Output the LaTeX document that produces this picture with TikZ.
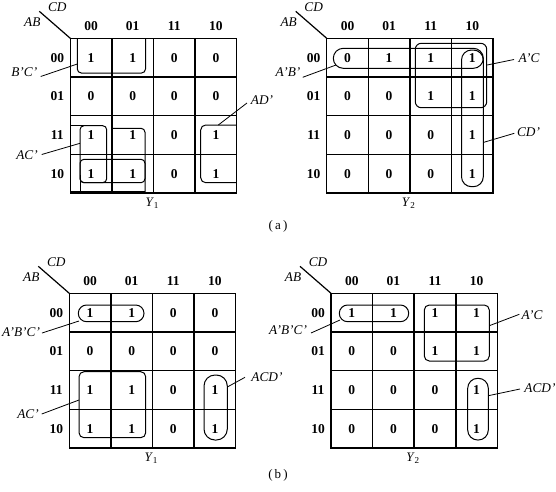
\documentclass[tikz,border=0pt]{standalone}
\usepackage{fontspec}
\setmainfont{Liberation Serif}
\tikzset{
  gridline/.style={line width=1.5pt},
  grp/.style={line width=1pt},
  lead/.style={line width=0.8pt},
  diagline/.style={line width=1.2pt},
  val/.style={font=\bfseries\fontsize{13.5}{14}\selectfont, inner sep=0pt},
  hdr/.style={font=\bfseries\fontsize{13.5}{14}\selectfont, inner sep=0pt},
  lab/.style={font=\itshape\fontsize{13.3}{14}\selectfont, inner sep=0pt},
  captext/.style={font=\fontsize{13}{13}\selectfont, inner sep=0pt}
}
\newcommand{\kmap}[3]{%
  \draw[gridline] (0,0) rectangle (166.4,154.8);
  \foreach \i in {1,2,3} {
    \draw[gridline] (\i*41.6,0) -- (\i*41.6,154.8);
    \draw[gridline] (0,\i*38.7) -- (166.4,\i*38.7);
  }
  \foreach \h [count=\k from 0] in {00,01,11,10} {
    \node[hdr] (#1c\k) at (\k*41.6+20.8,-12) {\h};
    \node[hdr] (#1r\k) at (-13,\k*38.7+19.35) {\h};
  }
  \foreach \v [count=\k from 0] in {#2} {
    \pgfmathtruncatemacro\rr{int(\k/4)}
    \pgfmathtruncatemacro\cc{mod(\k,4)}
    \node[val] (#1v\k) at (\cc*41.6+20.8, \rr*38.7+19.35) {\v};
  }
  \coordinate (#1o) at (0,0);
  \coordinate (#1d) at (-31,-27);
  \draw[diagline] (#1o) -- (#1d);
  \node[lab] (#1cd) at (-13,-31) {CD};
  \node[lab] (#1ab) at (-38,-16) {AB};
  \node[captext] (#1y) at (82,165) {\textit{Y}\textsubscript{#3}};
}
\begin{document}
\begin{tikzpicture}[x=1pt,y=-1pt]
\useasboundingbox (0,0) rectangle (556,491);
\fill[white] (0,0) rectangle (556,491);

% ---------- (a) Y1 ----------
\begin{scope}[shift={(70.3,38.3)}]
\kmap{aa}{1,1,0,0, 0,0,0,0, 1,1,0,1, 1,1,0,1}{1}
\end{scope}
\draw[grp,rounded corners=4] (77.3,38.3) -- (77.3,73) -- (145.5,73) -- (145.5,38.3);
\draw[grp,rounded corners=4] (80,125.7) rectangle (106.7,182.7);
\draw[grp] (70.3,125.7) -- (90,125.7);
\draw[grp] (80,175) -- (80,192.7);
\draw[grp,rounded corners=4] (111.7,128.3) -| (145,192.7);
\draw[grp,rounded corners=4] (80,159.3) rectangle (145,182.7);
\draw[grp] (70.3,191.7) -- (145,191.7);
\draw[grp,rounded corners=5] (236.7,125) -- (200.7,125) -- (200.7,182.7) -- (236.7,182.7);
\node[lab] (aBC) at (24.3,72) {B'C'};
\node[lab] (aAC) at (27,155) {AC'};
\node[lab] (aAD) at (262,100) {AD'};
\coordinate (aBCs) at (40.7,76.5);  \coordinate (aBCe) at (77.3,64);
\coordinate (aACs) at (41.7,154.5); \coordinate (aACe) at (80,143.3);
\coordinate (aADs) at (247,103);    \coordinate (aADe) at (218.3,125);
\draw[lead] (aBCs) -- (aBCe);
\draw[lead] (aACs) -- (aACe);
\draw[lead] (aADs) -- (aADe);

% ---------- (a) Y2 ----------
\begin{scope}[shift={(326.7,38.3)}]
\kmap{ab}{0,1,1,1, 0,0,1,1, 0,0,0,1, 0,0,0,1}{2}
\end{scope}
\draw[grp,rounded corners=10] (333.3,48.3) rectangle (483.3,68.3);
\draw[grp,rounded corners=6] (415.3,43.3) rectangle (486.7,107.7);
\draw[grp,rounded corners=10] (461.5,50) rectangle (483.3,186.7);
\node[lab] (bAB) at (288,72) {A'B'};
\node[lab] (bAC) at (529,58.3) {A'C};
\node[lab] (bCD) at (528.5,132.5) {CD'};
\coordinate (bABs) at (302.7,77.3); \coordinate (bABe) at (336,65);
\coordinate (bACs) at (514,59.5);   \coordinate (bACe) at (487.2,65);
\coordinate (bCDs) at (514.3,133.3);  \coordinate (bCDe) at (483.8,142.3);
\draw[lead] (bABs) -- (bABe);
\draw[lead] (bACs) -- (bACe);
\draw[lead] (bCDs) -- (bCDe);
\node[captext] (capa) at (278,226) {(\,a\,)};

% ---------- (b) Y1 ----------
\begin{scope}[shift={(69.3,293.3)}]
\kmap{ba}{1,1,0,0, 0,0,0,0, 1,1,0,1, 1,1,0,1}{1}
\end{scope}
\draw[grp,rounded corners=8.3] (78.3,305) rectangle (144,321.7);
\draw[grp,rounded corners=5] (79,371.7) rectangle (145.7,437.7);
\draw[grp,rounded corners=11] (204,375) rectangle (227.3,440);
\node[lab] (cABC) at (21,332) {A'B'C'};
\node[lab] (cAC) at (28,414.5) {AC'};
\node[lab] (cACD) at (267,377) {ACD'};
\coordinate (cABCs) at (42,333); \coordinate (cABCe) at (79,321);
\coordinate (cACs) at (41.7,414);  \coordinate (cACe) at (79,400);
\coordinate (cACDs) at (245,377.3);  \coordinate (cACDe) at (227.3,387);
\draw[lead] (cABCs) -- (cABCe);
\draw[lead] (cACs) -- (cACe);
\draw[lead] (cACDs) -- (cACDe);

% ---------- (b) Y2 ----------
\begin{scope}[shift={(331,293.3)}]
\kmap{bb}{1,1,1,1, 0,0,1,1, 0,0,0,1, 0,0,0,1}{2}
\end{scope}
\draw[grp,rounded corners=8.3] (339.3,305) rectangle (408.7,321.7);
\draw[grp,rounded corners=5] (424.3,305) rectangle (489.3,361);
\draw[grp,rounded corners=10] (467.7,378.3) rectangle (488.3,440);
\node[lab] (dABC) at (288,330) {A'B'C'};
\node[lab] (dAC) at (532,315.5) {A'C};
\node[lab] (dACD) at (540,388.5) {ACD'};
\coordinate (dABCs) at (311,333); \coordinate (dABCe) at (340,320);
\coordinate (dACs) at (519.3,314.3); \coordinate (dACe) at (489.3,325.7);
\coordinate (dACDs) at (520,389); \coordinate (dACDe) at (488.3,395.7);
\draw[lead] (dABCs) -- (dABCe);
\draw[lead] (dACs) -- (dACe);
\draw[lead] (dACDs) -- (dACDe);
\node[captext] (capb) at (278,475) {(\,b\,)};
\end{tikzpicture}
\end{document}
